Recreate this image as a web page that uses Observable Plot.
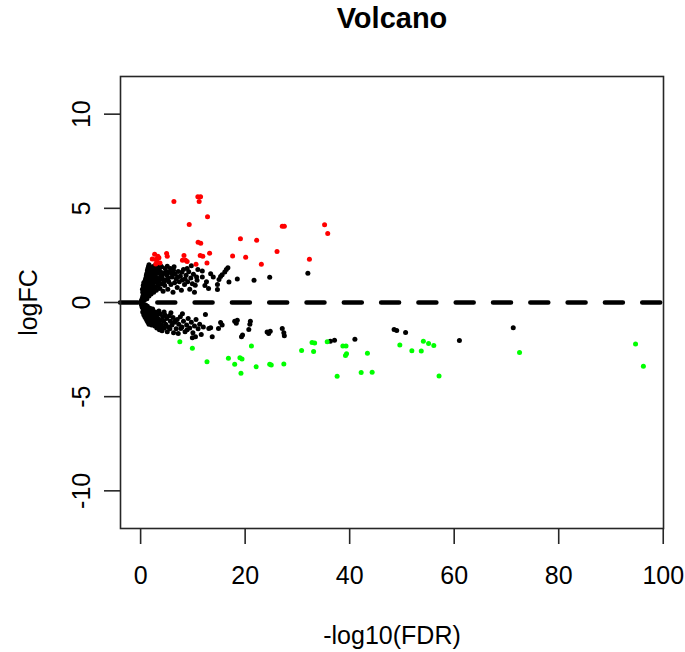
<!DOCTYPE html>
<html>
<head>
<meta charset="utf-8">
<script src="https://cdn.jsdelivr.net/npm/d3@7"></script>
<script src="https://cdn.jsdelivr.net/npm/@observablehq/plot@0.6"></script>
<style>
  html, body { margin: 0; padding: 0; background: #fff; }
  svg { font-family: "Liberation Sans", Arial, Helvetica, sans-serif; }
</style>
</head>
<body>
<div id="chart"></div>
<script>
// ---- data: [-log10(FDR), logFC] ----
const titleText = "Volcano";
const xLabel = "-log10(FDR)";
const yLabel = "logFC";
const xTicks = [0, 20, 40, 60, 80, 100];
const yTicks = [-10, -5, 0, 5, 10];

const blackUp = [
  [0.1,0.05],[0.2,0.12],[0.3,0.2],[0.3,0.08],[0.4,0.3],[0.5,0.15],[0.5,0.4],[0.6,0.25],[0.6,0.5],[0.7,0.1],
  [0.7,0.35],[0.8,0.6],[0.8,0.2],[0.9,0.45],[0.9,0.75],[1.0,0.3],[1.0,0.55],[1.0,0.9],[1.1,0.7],[1.1,1.05],
  [1.2,0.4],[1.2,0.85],[1.3,1.2],[1.3,0.6],[1.4,1.0],[1.4,1.35],[1.5,0.5],[1.5,0.8],[1.5,1.5],[1.6,1.15],
  [1.6,0.7],[1.7,1.6],[1.7,0.95],[1.8,1.3],[1.8,1.75],[1.9,0.6],[1.9,1.45],[2.0,1.85],[2.0,1.1],[2.0,0.85],
  [2.1,1.6],[2.2,1.3],[2.2,0.7],[2.3,1.9],[2.4,1.0],[2.4,1.5],[2.5,1.75],[2.6,0.8],[2.6,1.25],[2.7,1.95],
  [2.8,1.45],[2.9,1.1],[3.0,1.7],[3.0,0.65],[3.1,1.3],[3.2,1.9],[3.3,0.9],[3.4,1.55],[3.5,1.15],[3.6,1.8],
  [3.7,0.75],[3.8,1.35],[3.9,1.6],[4.0,1.0],[4.0,1.9],[4.2,1.25],[4.3,0.6],[4.4,1.55],[4.6,0.9],[4.7,1.8],
  [4.8,1.2],[5.0,1.45],[5.1,1.92],[5.2,0.7],[5.4,1.1],[5.5,1.6],[5.7,1.8],[5.8,0.95],[6.0,1.35],[6.2,0.55],
  [6.3,1.7],[6.5,1.05],[6.6,1.5],[6.8,1.25],[7.0,0.8],[7.2,1.65],[7.4,1.1],[7.6,1.4],[7.8,0.65],[8.0,1.2],
  [8.2,1.75],[8.4,0.95],[8.7,1.45],[8.9,1.8],[9.0,1.1],[9.2,1.63],[9.4,0.7],[9.6,1.3],[9.9,1.0],[10.1,1.5],
  [10.3,0.55],[12.3,0.9],[12.6,1.1],[13.0,0.75],[9.7,1.95],
  [0.4,0.55],[0.6,0.8],[0.7,0.95],[0.8,1.1],[0.9,1.2],[1.0,1.3],[1.1,1.45],[1.2,1.55],[1.3,1.7],[1.4,1.8],
  [1.5,1.9],[1.6,2.0],[1.7,1.25],[1.9,1.05],[2.1,0.95],[2.3,1.2],[2.5,1.4],[2.7,1.6],[2.9,1.8],[3.1,0.85],
  [3.3,1.1],[3.5,1.7],[3.8,1.95],[4.1,1.45],[4.5,1.1],[4.9,1.65],[5.3,1.3],[5.9,1.55],[6.4,1.9],[7.1,1.35],
  [7.9,1.6],[8.5,1.25],[1.2,0.2],[1.6,0.35],[2.0,0.45],[2.5,0.55],[0.35,0.7],[0.5,0.9],[0.6,1.05],
  [32.0,1.55],[24.7,1.34],[21.7,1.18],[18.5,1.25],[16.9,1.09],[16.7,1.85],[16.4,1.75],[16.1,1.62],[15.6,1.48],
  [15.3,1.38],[15.0,1.22],[14.7,0.95],[14.7,0.69],[13.4,1.53],[13.9,1.35],[11.8,1.67],[11.8,1.35],[10.95,1.75],
  [10.7,1.35],[10.8,1.18],[10.45,0.92]
];

const blackDown = [
  [0.1,-0.05],[0.2,-0.15],[0.3,-0.25],[0.4,-0.1],[0.5,-0.35],[0.6,-0.2],[0.7,-0.45],[0.8,-0.3],[0.9,-0.55],[1.0,-0.15],
  [1.0,-0.4],[1.1,-0.65],[1.2,-0.3],[1.3,-0.5],[1.4,-0.75],[1.5,-0.35],[1.6,-0.6],[1.7,-0.85],[1.8,-0.45],[1.9,-0.7],
  [2.0,-0.95],[2.1,-0.5],[2.2,-0.8],[2.4,-0.6],[2.5,-1.0],[2.6,-0.75],[2.8,-0.5],[2.9,-0.9],[3.0,-1.1],[3.2,-0.65],
  [3.3,-0.85],[3.5,-1.05],[3.7,-0.6],[3.8,-0.95],[4.0,-1.2],[4.2,-0.75],[4.4,-1.0],[4.6,-0.65],[4.8,-1.15],[5.0,-0.85],
  [5.3,-1.3],[5.5,-0.7],[5.7,-1.0],[6.0,-1.2],[6.2,-0.8],[6.5,-1.05],[6.8,-1.4],[7.0,-0.9],[7.3,-1.15],[7.6,-0.75],
  [7.9,-1.3],[8.2,-1.0],[8.5,-1.55],[8.8,-1.2],[9.1,-0.85],[9.4,-1.35],[9.7,-1.05],[10.0,-1.6],[10.3,-1.25],[10.6,-0.9],
  [11.0,-1.4],[11.3,-1.15],[11.6,-1.7],[12.0,-1.3],[12.4,-0.64],[3.8,-1.29],[6.6,-1.0],
  [10.5,-1.82],[9.9,-1.87],[7.7,-1.38],[8.9,-1.45],
  [0.4,-0.5],[0.6,-0.65],[0.8,-0.75],[1.0,-0.85],[1.2,-0.95],[1.4,-1.05],[1.6,-1.15],[1.9,-1.0],[2.1,-1.2],[2.3,-1.05],
  [2.7,-1.25],[3.1,-1.35],[3.4,-1.2],[3.6,-1.45],[4.1,-1.5],[4.5,-1.35],[5.1,-1.55],[5.6,-1.4],[6.3,-1.6],[7.2,-1.65],
  [1.3,-0.2],[1.8,-0.3],[2.3,-0.35],[3.5,-0.45],[4.5,-0.5],[5.8,-0.55],[8.0,-0.6],
  [15.3,-1.06],[15.6,-1.2],[14.9,-1.38],[18.0,-0.99],[18.5,-0.94],[18.3,-1.1],[21.0,-0.99],[20.9,-1.16],[20.7,-1.43],
  [19.3,-1.82],[19.5,-1.73],[24.2,-1.56],[24.5,-1.64],[24.8,-1.52],[27.1,-1.38],[27.4,-1.61],[27.5,-1.77],[13.7,-1.82],
  [13.05,-1.38],[13.4,-1.34],[48.5,-1.43],[49.0,-1.49],[50.7,-1.59],[71.3,-1.34],[61.0,-2.02],[41.0,-1.95],[36.3,-2.06],
  [37.1,-2.0]
];

const redUp = [
  [6.37,5.36],[10.95,5.62],[11.47,5.62],[11.2,5.36],[12.8,4.55],[9.3,4.14],[27.1,4.05],[27.5,4.05],[11.0,3.2],[11.5,3.15],
  [19.1,3.39],[22.2,3.3],[26.1,2.71],[32.3,2.29],[17.6,2.47],[20.1,2.4],[23.1,2.03],[13.2,2.62],[11.4,2.5],[11.9,2.45],
  [12.7,2.1],[10.6,2.03],[8.3,2.5],[8.6,2.24],[8.9,2.18],[8.0,2.24],[4.97,2.6],[5.1,2.45],[2.68,2.56],[2.23,2.31],
  [2.87,2.28],[3.5,2.38],[3.7,2.1],[3.19,2.15],[35.2,4.13],[35.8,3.66],[2.9,2.05],[3.3,2.45]
];

const greenDown = [
  [7.5,-2.08],[9.9,-2.43],[12.7,-3.14],[16.8,-2.96],[18.0,-3.28],[19.0,-2.93],[19.4,-3.0],[19.2,-3.76],[21.2,-2.31],
  [22.1,-3.41],[24.7,-3.28],[25.0,-3.32],[27.4,-3.27],[30.8,-2.55],[32.8,-2.13],[33.3,-2.15],[33.1,-2.6],[35.7,-2.08],
  [38.7,-2.31],[39.3,-2.31],[39.2,-2.81],[39.4,-2.72],[37.6,-3.92],[42.2,-3.72],[44.3,-3.70],[43.4,-2.70],[49.6,-2.25],
  [51.9,-2.56],[53.7,-2.58],[54.1,-2.06],[55.1,-2.18],[56.1,-2.28],[57.1,-3.9],[72.5,-2.65],[94.7,-2.2],[96.2,-3.38]
];

const toRows = arr => arr.map(([x, y]) => ({x, y}));
const ink = "#262626";
const font = 25;
const dotR = 2.5;

const chart = Plot.plot({
  width: 685,
  height: 652,
  marginLeft: 120,
  marginRight: 22,
  marginTop: 76,
  marginBottom: 124,
  x: {domain: [-3.85, 100.05]},
  y: {domain: [-12, 12]},
  style: {fontFamily: "'Liberation Sans', Arial, Helvetica, sans-serif", color: "#000", background: "#fff"},
  marks: [
    Plot.ruleY([0], {stroke: "#000", strokeWidth: 4.5, strokeDasharray: "18,19.3", strokeLinecap: "round"}),
    Plot.dot(toRows(blackUp), {x: "x", y: "y", r: dotR, fill: "#000"}),
    Plot.dot(toRows(blackDown), {x: "x", y: "y", r: dotR, fill: "#000"}),
    Plot.dot(toRows(redUp), {x: "x", y: "y", r: dotR, fill: "#ff0000"}),
    Plot.dot(toRows(greenDown), {x: "x", y: "y", r: dotR, fill: "#00ff00"}),
    Plot.frame({stroke: ink, strokeWidth: 1.6}),
    Plot.axisX({ticks: xTicks, tickSize: 16, tickPadding: 22, fontSize: font, stroke: ink, strokeWidth: 1.6, label: null, tickFormat: d => String(d)}),
    Plot.axisY({ticks: yTicks, tickSize: 16, fontSize: font, stroke: ink, strokeWidth: 1.6, label: null, tickFormat: () => ""}),
    Plot.text(yTicks, {y: d => d, text: d => String(d), frameAnchor: "left", rotate: -90, dx: -31, textAnchor: "middle", lineAnchor: "bottom", fontSize: font, fill: "#000"}),
    Plot.text([xLabel], {text: d => d, frameAnchor: "bottom", dy: 115, lineAnchor: "bottom", fontSize: font, fill: "#000"}),
    Plot.text([yLabel], {text: d => d, frameAnchor: "left", rotate: -90, dx: -84, textAnchor: "middle", lineAnchor: "bottom", fontSize: font, fill: "#000"}),
    Plot.text([titleText], {text: d => d, frameAnchor: "top", dy: -49, lineAnchor: "bottom", fontSize: 29, fontWeight: "bold", fill: "#000"})
  ]
});
document.getElementById("chart").appendChild(chart);
</script>
</body>
</html>
